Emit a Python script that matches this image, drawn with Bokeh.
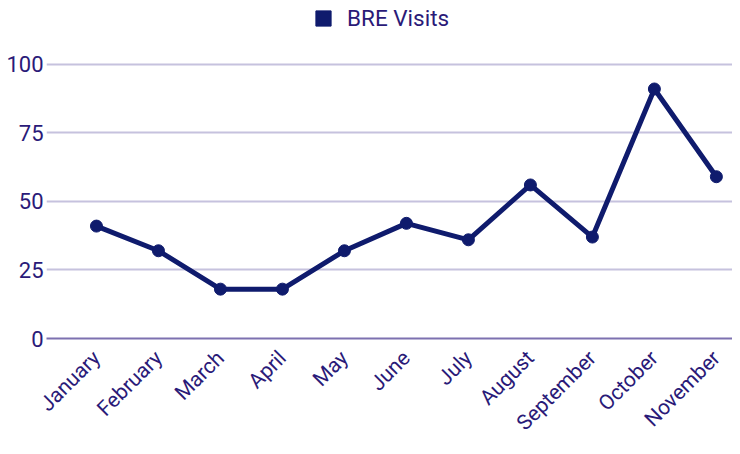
import math
from bokeh.plotting import figure
from bokeh.models import FixedTicker, Range1d, Legend, LegendItem
from bokeh.embed import file_html
from bokeh.resources import INLINE

months = ["January", "February", "March", "April", "May", "June", "July",
          "August", "September", "October", "November"]
visits = [41, 32, 18, 18, 32, 42, 36, 56, 37, 91, 59]
y_ticks = [0, 25, 50, 75, 100]
series_name = "BRE Visits"

LINE = "#0f1b6d"
TEXT = "#2a1a78"
GRID = "#c6c2de"
ZERO = "#7d71b0"
FONT = "Roboto"

xs = list(range(len(months)))

# frame reaches to the top of the figure so the legend can sit inside it
p = figure(width=732, height=446, output_backend="svg", toolbar_location=None,
           x_range=Range1d(-0.806, len(months) - 1 + 0.26),
           y_range=Range1d(0, 100 + 64 / 2.75),
           min_border_left=46, min_border_right=0, min_border_top=0, min_border_bottom=107)
p.outline_line_color = None
p.background_fill_color = "white"
p.border_fill_color = "white"

p.line(xs, visits, line_color=LINE, line_width=5)
p.scatter(xs, visits, size=12, fill_color=LINE, line_color=LINE)
legend_r = p.scatter([float("nan")], [float("nan")], marker="square", size=14,
                     fill_color=LINE, line_color=LINE)

# axes
p.xaxis.ticker = FixedTicker(ticks=xs)
p.xaxis.major_label_overrides = {i: m for i, m in enumerate(months)}
p.xaxis.major_label_orientation = math.pi / 4
p.xaxis.major_tick_out = 0
p.xaxis.major_tick_in = 0
p.xaxis.minor_tick_out = 0
p.xaxis.axis_line_color = ZERO
p.xaxis.axis_line_width = 2
p.xaxis.major_label_text_font = FONT
p.xaxis.major_label_text_font_size = "21px"
p.xaxis.major_label_text_color = TEXT
p.xaxis.major_label_standoff = 16

p.yaxis.ticker = FixedTicker(ticks=y_ticks)
p.yaxis.axis_line_color = None
p.yaxis.major_tick_out = 0
p.yaxis.major_tick_in = 0
p.yaxis.minor_tick_out = 0
p.yaxis.minor_tick_in = 0
p.yaxis.major_label_text_font = FONT
p.yaxis.major_label_text_font_size = "22px"
p.yaxis.major_label_text_color = TEXT
p.yaxis.major_label_standoff = 3

p.xgrid.grid_line_color = None
p.ygrid.ticker = FixedTicker(ticks=y_ticks)
p.ygrid.grid_line_color = GRID
p.ygrid.grid_line_width = 2

legend = Legend(items=[LegendItem(label=series_name, renderers=[legend_r])],
                location=(258, 301), orientation="horizontal",
                padding=0, margin=0, border_line_color=None,
                background_fill_alpha=0,
                glyph_width=38, glyph_height=38, label_standoff=5,
                label_text_font=FONT, label_text_font_size="22.5px",
                label_text_color=TEXT)
p.add_layout(legend)

open("out.html", "w").write(file_html(p, INLINE))
